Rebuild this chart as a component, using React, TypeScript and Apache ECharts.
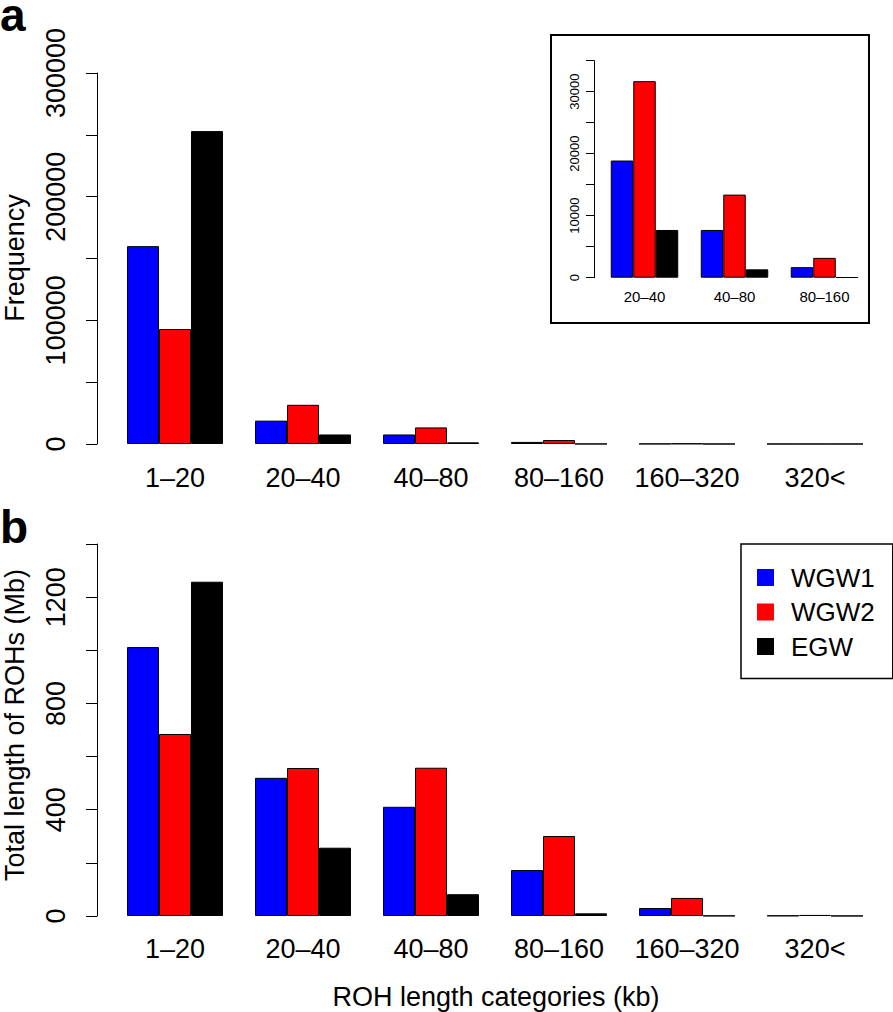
import React, { useEffect, useRef } from "react";
import * as echarts from "echarts";

const categories = ["1–20", "20–40", "40–80", "80–160", "160–320", "320<"];
const seriesNames = ["WGW1", "WGW2", "EGW"];
const colors = ["#0000ff", "#ff0000", "#000000"];

// Panel a: frequency of ROHs
const freqWGW1 = [160000, 18900, 7700, 1700, 150, 10];
const freqWGW2 = [93000, 31700, 13400, 3200, 330, 20];
const freqEGW = [253000, 7700, 1350, 60, 5, 1];

// Inset shows categories 20–40, 40–80, 80–160
const insetCategories = ["20–40", "40–80", "80–160"];

// Panel b: total length of ROHs (Mb)
const lenWGW1 = [1012, 520, 411, 173, 30, 1.5];
const lenWGW2 = [685, 557, 558, 301, 68, 4];
const lenEGW = [1258, 257, 82, 10, 1, 0.5];

const freqTicks = ["0", "100000", "200000", "300000"];
const insetTicks = ["0", "10000", "20000", "30000"];
const lenTicks = ["0", "400", "800", "1200"];

const FONT = "'Liberation Sans', Arial, Helvetica, sans-serif";

export default function App() {
  const ref = useRef<HTMLDivElement>(null);

  useEffect(() => {
    if (!ref.current) return;
    const chart = echarts.init(ref.current, undefined, { renderer: "svg" });

    const yAxisBase = (
      gridIndex: number,
      max: number,
      interval: number,
      ticks: string[],
      offset: number,
      fontSize: number,
      tickLen: number,
      margin: number
    ) => ({
      type: "value",
      gridIndex,
      min: 0,
      max,
      interval,
      offset,
      splitLine: { show: false },
      axisLine: { show: true, lineStyle: { color: "#000", width: 1 } },
      axisTick: { show: true, length: tickLen, lineStyle: { color: "#000", width: 1 } },
      axisLabel: {
        rotate: 90,
        fontSize,
        fontFamily: FONT,
        color: "#000",
        margin,
        showMinLabel: true,
        showMaxLabel: true,
        hideOverlap: false,
        formatter: (v: number) => (ticks.includes(String(v)) ? String(v) : ""),
      },
    });

    const xAxisBase = (gridIndex: number, data: string[], fontSize: number, margin: number) => ({
      type: "category",
      gridIndex,
      data,
      axisLine: { show: false },
      axisTick: { show: false },
      splitLine: { show: false },
      axisLabel: {
        fontSize,
        fontFamily: FONT,
        color: "#000",
        margin,
        verticalAlign: "middle",
        interval: 0,
      },
    });

    const barSeries = (name: string, data: number[], axisIndex: number, color: string) => ({
      type: "bar",
      name,
      data,
      xAxisIndex: axisIndex,
      yAxisIndex: axisIndex,
      barGap: "0%",
      barCategoryGap: "25%",
      itemStyle: { color, borderColor: "#000", borderWidth: 1 },
      emphasis: { disabled: true },
    });

    const freqAll = [freqWGW1, freqWGW2, freqEGW];
    const lenAll = [lenWGW1, lenWGW2, lenEGW];

    const option: any = {
      animation: false,
      backgroundColor: "#fff",
      grid: [
        { left: 111, width: 768, top: 73, height: 371 },
        { left: 599.5, width: 270, top: 60.7, height: 217 },
        { left: 111, width: 768, top: 544, height: 372 },
      ],
      xAxis: [
        xAxisBase(0, categories, 27, 34),
        xAxisBase(1, insetCategories, 15, 19),
        xAxisBase(2, categories, 27, 33),
      ],
      yAxis: [
        yAxisBase(0, 300000, 50000, freqTicks, 14, 27, 11, 28),
        yAxisBase(1, 35000, 5000, insetTicks, 5.5, 13, 8, 13),
        yAxisBase(2, 1400, 200, lenTicks, 14, 27, 11, 28),
      ],
      legend: {
        orient: "vertical",
        left: 741,
        top: 544,
        padding: [20.5, 18, 19, 16],
        itemWidth: 17,
        itemHeight: 17,
        itemGap: 8.5,
        icon: "rect",
        borderColor: "#000",
        borderWidth: 1.5,
        selectedMode: false,
        itemStyle: { borderWidth: 0 },
        textStyle: {
          fontSize: 26,
          lineHeight: 25,
          color: "#000",
          fontFamily: FONT,
          padding: [0, 0, 0, 12],
        },
        data: seriesNames,
      },
      graphic: [
        {
          type: "rect",
          shape: { x: 551, y: 35, width: 318, height: 288 },
          style: { fill: "none", stroke: "#000", lineWidth: 2 },
          z: 0,
        },
        {
          type: "text",
          x: 0,
          y: 15,
          style: {
            text: "a",
            fontSize: 46,
            lineHeight: 30,
            fontWeight: "bold",
            fontFamily: FONT,
            fill: "#000",
            align: "left",
            verticalAlign: "middle",
          },
        },
        {
          type: "text",
          x: 0,
          y: 527,
          style: {
            text: "b",
            fontSize: 46,
            lineHeight: 36,
            fontWeight: "bold",
            fontFamily: FONT,
            fill: "#000",
            align: "left",
            verticalAlign: "middle",
          },
        },
        {
          type: "text",
          x: 15,
          y: 258,
          rotation: Math.PI / 2,
          style: {
            text: "Frequency",
            fontSize: 27,
            fontFamily: FONT,
            fill: "#000",
            align: "center",
            verticalAlign: "middle",
          },
        },
        {
          type: "text",
          x: 15,
          y: 725,
          rotation: Math.PI / 2,
          style: {
            text: "Total length of ROHs (Mb)",
            fontSize: 27,
            fontFamily: FONT,
            fill: "#000",
            align: "center",
            verticalAlign: "middle",
          },
        },
        {
          type: "text",
          x: 496,
          y: 997,
          style: {
            text: "ROH length categories (kb)",
            fontSize: 27,
            fontFamily: FONT,
            fill: "#000",
            align: "center",
            verticalAlign: "middle",
          },
        },
      ],
      series: [
        ...seriesNames.map((n, i) => barSeries(n, freqAll[i], 0, colors[i])),
        ...seriesNames.map((n, i) => barSeries(n, freqAll[i].slice(1, 4), 1, colors[i])),
        ...seriesNames.map((n, i) => barSeries(n, lenAll[i], 2, colors[i])),
      ],
    };

    chart.setOption(option);
    return () => chart.dispose();
  }, []);

  return (
    <div
      ref={ref}
      style={{ position: "absolute", left: 0, top: 0, width: 893, height: 1012, background: "#fff" }}
    />
  );
}
